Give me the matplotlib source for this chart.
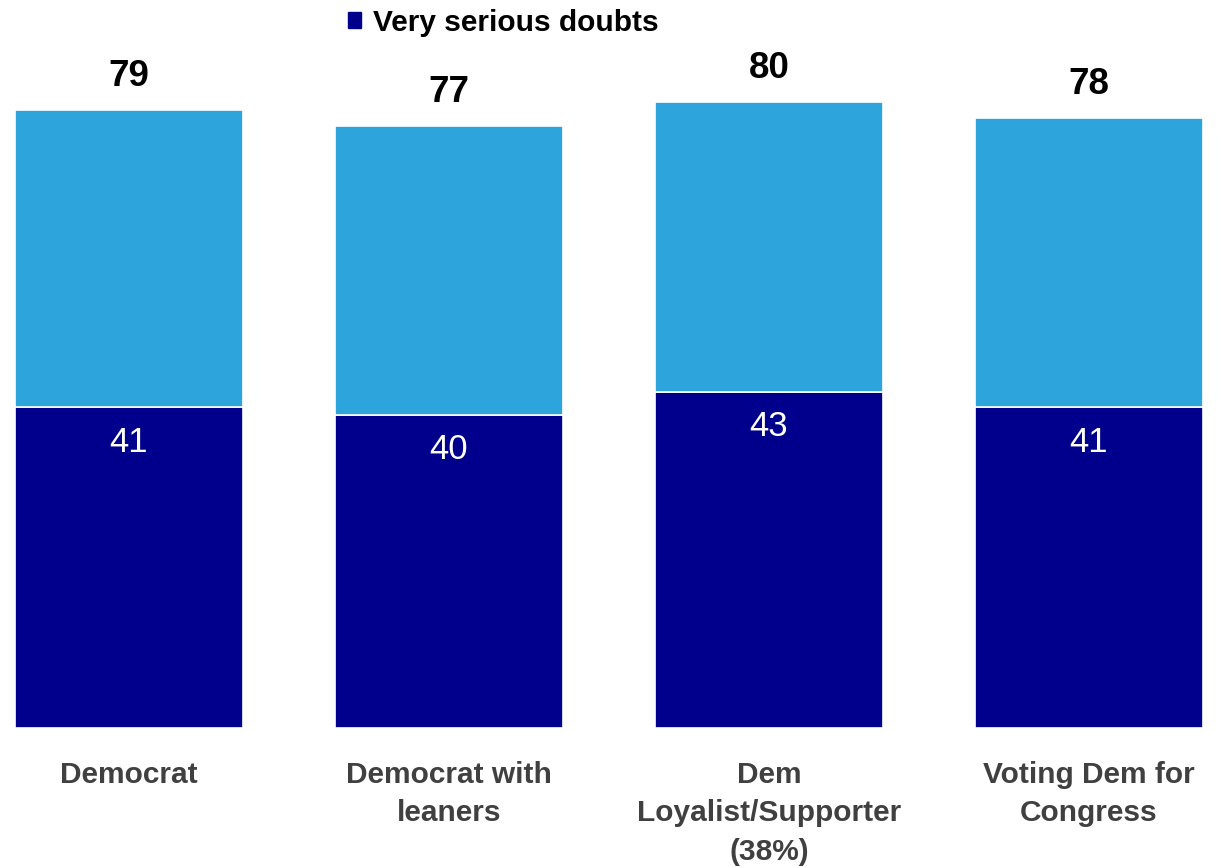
import matplotlib
matplotlib.use("Agg")
import numpy as np
from matplotlib import pyplot as plt
from matplotlib.patches import Patch

plt.rcParams['font.family'] = ['Liberation Sans', 'DejaVu Sans']

# data
categories = ['Democrat', 'Democrat with\nleaners', 'Dem\nLoyalist/Supporter\n(38%)', 'Voting Dem for\nCongress']
very_serious = [41, 40, 43, 41]
total_doubts = [79, 77, 80, 78]

dark = '#00008C'
light = '#2DA5DC'

fig = plt.figure(figsize=(12.21, 8.67), dpi=100)
ax = fig.add_axes([0, 0.1603, 1, 0.8397])

x = np.arange(len(categories))
rest = [t - v for t, v in zip(total_doubts, very_serious)]
w = 0.7125

ax.bar(x, very_serious, w, color=dark, edgecolor='white', linewidth=1.2)
ax.bar(x, rest, w, bottom=very_serious, color=light, edgecolor='white', linewidth=1.2)

for i in range(len(x)):
	ax.annotate(str(total_doubts[i]), (x[i], total_doubts[i]), xytext=(0, 11.5),
				textcoords='offset points', ha='center', va='bottom',
				fontsize=26.5, fontweight='bold', color='black')
	ax.annotate(str(very_serious[i]), (x[i], very_serious[i]), xytext=(0, -25),
				textcoords='offset points', ha='center', va='center',
				fontsize=25, color='white')

ax.set_xlim(-129 / 320, (1221 - 129) / 320)
ax.set_ylim(0, 728 / 7.82)
ax.set_xticks(x)
ax.set_xticklabels(categories, fontsize=21.5, fontweight='bold', color='#404040', linespacing=1.46)
ax.tick_params(axis='x', length=0, pad=24)
ax.set_yticks([])
for s in ax.spines.values():
	s.set_visible(False)

fig.legend(handles=[Patch(color=dark)], labels=['Very serious doubts'], loc='center',
		   bbox_to_anchor=(0.4124, 0.9735), frameon=False,
		   prop={'weight': 'bold', 'size': 21.5}, handlelength=0.45, handleheight=0.45,
		   handletextpad=0.4, borderpad=0, borderaxespad=0)

fig.savefig('out.png', dpi=100)
